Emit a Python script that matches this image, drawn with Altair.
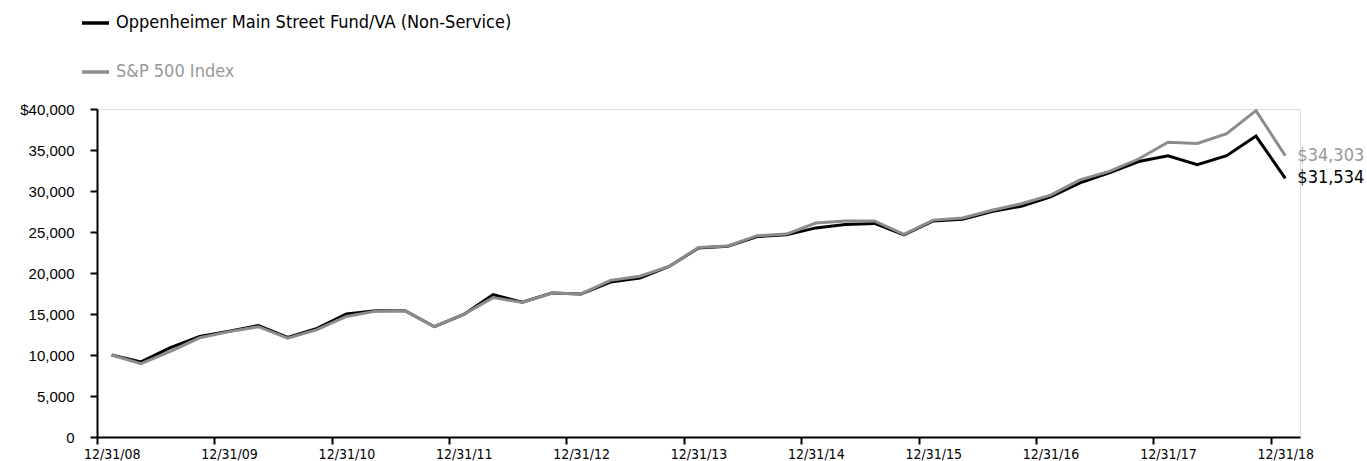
import json
import altair as alt
import pandas as pd

series_names = ["Oppenheimer Main Street Fund/VA (Non-Service)", "S&P 500 Index"]
tick_labels = ["12/31/08", "12/31/09", "12/31/10", "12/31/11", "12/31/12", "12/31/13",
               "12/31/14", "12/31/15", "12/31/16", "12/31/17", "12/31/18"]
end_labels = ["$31,534", "$34,303"]

fund = [10000, 9150, 10900, 12250, 12900, 13600, 12150, 13250, 15000, 15400, 15400,
        13450, 14950, 17350, 16450, 17550, 17450, 18900, 19400, 20800, 23050, 23250,
        24450, 24650, 25500, 25900, 26050, 24650, 26350, 26550, 27500, 28150, 29300,
        31000, 32200, 33600, 34300, 33200, 34300, 36700, 31534]
sp500 = [10000, 8950, 10450, 12100, 12850, 13450, 12050, 13100, 14700, 15350, 15400,
         13450, 14950, 17000, 16400, 17550, 17450, 19100, 19600, 20800, 23100, 23300,
         24550, 24750, 26100, 26350, 26350, 24700, 26450, 26700, 27650, 28450, 29500,
         31350, 32400, 33900, 35950, 35800, 37000, 39800, 34303]

colors = ["#000000", "#8c8c8c"]
text_colors = ["#000000", "#999999"]

rows = []
for name, vals in zip(series_names, [fund, sp500]):
    for i, v in enumerate(vals):
        rows.append({"series": name, "q": i + 0.5, "value": v})
df = pd.DataFrame(rows)

n = len(fund)
last = pd.DataFrame({
    "series": series_names,
    "q": [n - 0.5, n - 0.5],
    "value": [fund[-1], sp500[-1]],
    "label": end_labels,
})

label_font = "Liberation Sans Narrow, DejaVu Sans Condensed, Roboto Condensed, sans-serif"
plot_w = 1203
half_band = plot_w / n / 2

x = alt.X("q:Q", scale=alt.Scale(domain=[0, n], nice=False, zero=False),
          axis=alt.Axis(values=list(range(0, n, 4)),
                        labelExpr=json.dumps(tick_labels) + "[round(datum.value/4)]",
                        title=None, grid=False, domainColor="#000", domainWidth=2,
                        tickColor="#000", tickWidth=2, tickSize=7, labelPadding=3,
                        labelOffset=half_band,
                        labelFont=label_font, labelFontSize=14, labelColor="#000",
                        labelAngle=0, labelAlign="center"))
y = alt.Y("value:Q", scale=alt.Scale(domain=[0, 40000], nice=False),
          axis=alt.Axis(values=list(range(0, 40001, 5000)),
                        labelExpr="datum.value == 40000 ? '$40,000' : format(datum.value, ',')",
                        title=None, grid=False, domainColor="#000", domainWidth=2,
                        tickColor="#000", tickWidth=2, tickSize=7, labelPadding=16,
                        labelFont="Liberation Sans, Arial, sans-serif", labelFontSize=15,
                        labelColor="#000"))

lines = []
for name, c in zip(series_names, colors):
    lines.append(
        alt.Chart(df[df.series == name]).mark_line(color=c, strokeWidth=3, strokeJoin="miter")
        .encode(x=x, y=y)
    )

end_text = []
for name, c in zip(series_names, text_colors):
    end_text.append(
        alt.Chart(last[last.series == name]).mark_text(
            align="left", baseline="middle", dx=12, font=label_font, fontSize=18, color=c)
        .encode(x=alt.X("q:Q"), y=alt.Y("value:Q"), text="label:N")
    )

legend_parts = []
leg_y = [-86, -37]
for name, c, tc, yy in zip(series_names, colors, text_colors, leg_y):
    ldf = pd.DataFrame({"series": [name]})
    legend_parts.append(
        alt.Chart(ldf).mark_rule(color=c, strokeWidth=3.5)
        .encode(x=alt.value(-15), x2=alt.value(12), y=alt.value(yy))
    )
    legend_parts.append(
        alt.Chart(ldf).mark_text(align="left", baseline="middle", font=label_font,
                                 fontSize=18, color=tc)
        .encode(x=alt.value(19), y=alt.value(yy), text="series:N")
    )

chart = alt.layer(*lines, *end_text, *legend_parts).properties(
    width=plot_w, height=328,
    autosize=alt.AutoSizeParams(type="none"),
    padding={"left": 97, "top": 109, "right": 67, "bottom": 24},
).configure_view(stroke=None).configure(background="#ffffff")

chart.save("out.html", embed_options={"renderer": "svg", "actions": False})
